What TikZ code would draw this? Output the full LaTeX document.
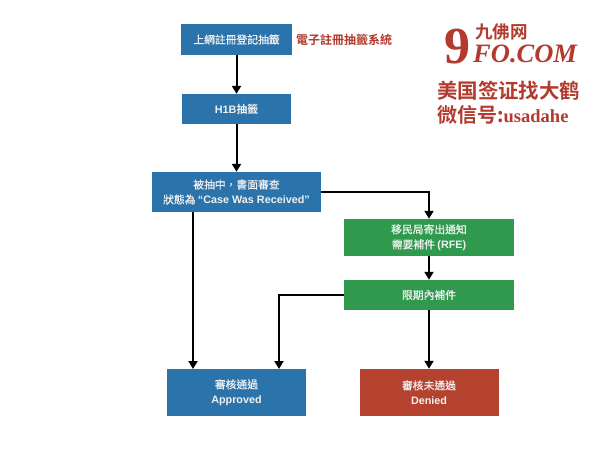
\documentclass[tikz,border=0pt]{standalone}
\usepackage{fontspec}
\usetikzlibrary{arrows.meta}
\setmainfont{Liberation Sans}
\newfontfamily\cjk{Noto Sans CJK TC}[BoldFont={* Bold}]
\newfontfamily\cjkm{Noto Sans CJK TC}[FakeBold=0.6]
\newfontfamily\serifb{Liberation Serif}
\newcommand{\lat}[1]{{\rmfamily\bfseries #1}}
\definecolor{bblue}{HTML}{2B74AB}
\definecolor{bgreen}{HTML}{2F9A4D}
\definecolor{bred}{HTML}{B5412F}
\definecolor{lred}{HTML}{B23A2E}
\definecolor{ltxt}{HTML}{F0F0F0}
\tikzset{
  flowbox/.style={draw=none,inner sep=0pt,text=ltxt,align=center,font=\fontsize{10.8}{15}\selectfont\cjkm},
  bluebox/.style={flowbox,fill=bblue},
  greenbox/.style={flowbox,fill=bgreen},
  redbox/.style={flowbox,fill=bred},
  conn/.style={draw=black,line width=2pt,-{Triangle[length=8pt,width=9pt]}},
  logotext/.style={inner sep=0pt,anchor=base west,text=lred}
}
\begin{document}
\begin{tikzpicture}[x=1pt,y=-1pt]
\useasboundingbox (0,0) rectangle (600,450);
\fill[white] (0,0) rectangle (600,450);
\node[bluebox,minimum width=111pt,minimum height=31pt] (b1) at (236.5,39.5) {上網註冊登記抽籤};
\node[bluebox,minimum width=109pt,minimum height=30pt] (b2) at (236.5,109) {\lat{H1B}{\cjk\bfseries 抽籤}};
\node[bluebox,minimum width=169pt,minimum height=40pt] (b3) at (236.5,192) {被抽中，書面審查\\狀態為 \lat{“Case Was Received”}};
\node[greenbox,minimum width=170pt,minimum height=37pt] (g1) at (429,237.5) {移民局寄出通知\\需要補件 \lat{(RFE)}};
\node[greenbox,minimum width=170pt,minimum height=30pt] (g2) at (429,295) {限期內補件};
\node[bluebox,minimum width=139pt,minimum height=47pt] (ok) at (236.5,392.5) {審核通過\\\lat{Approved}};
\node[redbox,minimum width=139pt,minimum height=47pt] (no) at (429,392.5) {審核未通過\\\lat{Denied}};
\node[inner sep=0pt,anchor=west,text=lred,font=\fontsize{12}{14}\selectfont\cjk\bfseries] (sys) at (296,39.5) {電子註冊抽籤系統};
\coordinate (c1) at (429,192);
\coordinate (c2) at (193,212);
\coordinate (c3) at (193,369);
\coordinate (c4) at (279,295);
\coordinate (c5) at (279,369);
\draw[conn] (b1) -- (b2);
\draw[conn] (b2) -- (b3);
\draw[conn] (b3.east) -- (c1) -- (g1);
\draw[conn] (c2) -- (c3);
\draw[conn] (g1) -- (g2);
\draw[conn] (g2.west) -- (c4) -- (c5);
\draw[conn] (g2) -- (no);
\node[logotext,font=\fontsize{52}{52}\selectfont\serifb\bfseries] (nine) at (444,63) {9};
\node[logotext,font=\fontsize{17.5}{18}\selectfont\cjk\bfseries] (wang) at (475,38) {九佛网};
\node[logotext,font=\fontsize{26.5}{27}\selectfont\serifb\bfseries\itshape] (fo) at (473,62) {FO.COM};
\node[logotext,font=\fontsize{20.4}{22}\selectfont\cjk\bfseries] (l1) at (437,98) {美国签证找大鹤};
\node[logotext,font=\fontsize{20}{22}\selectfont\cjk\bfseries] (l2) at (437,122.5) {微信号:\serifb\fontsize{18.5}{22}\selectfont usadahe};
\end{tikzpicture}
\end{document}
